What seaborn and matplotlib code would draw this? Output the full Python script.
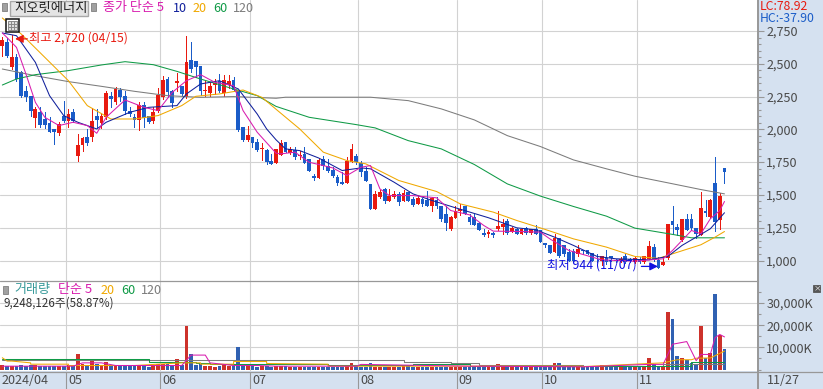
import matplotlib
matplotlib.use("Agg")
import matplotlib.pyplot as plt
import numpy as np
import pandas as pd
import seaborn as sns
from matplotlib.lines import Line2D
from matplotlib.patches import Rectangle
from matplotlib.ticker import FixedLocator, FuncFormatter

# ------------------------------
# data
# ------------------------------

candle_color = (
    "RBRBBBBRBB" "BBRBRBRRBR" "BRRBRBBBBR" "BBRRRBBRBR"
    "BBBRRRBRRB" "BBRBBRBBRR" "BRBRBBBRBB" "BBBRRBBBBR"
    "RBRRBRBBRB" "BRBBBRRRBB" "BBBRBRRBRB" "RBRBBBBRBB"
    "BBRBBBBRBB" "BRBBRBRRBB" "RRBBRBBBRB" "RBRB"
)
body_top = [
    2684, 2663, 2549, 2549, 2440, 2290, 2252, 2155, 2135, 2082,
    2046, 2003, 2041, 2105, 2117, 2130, 1884, 1935, 1940, 2062,
    2105, 2100, 2275, 2252, 2308, 2300, 2257, 2143, 2097, 2189,
    2189, 2105, 2135, 2265, 2379, 2384, 2295, 2371, 2333, 2516,
    2529, 2524, 2481, 2300, 2333, 2354, 2371, 2379, 2371, 2379,
    2300, 2016, 1960, 1945, 1902, 1856, 1843, 1762, 1851, 1894,
    1902, 1851, 1846, 1808, 1813, 1775, 1648, 1770, 1775, 1724,
    1693, 1640, 1602, 1762, 1853, 1800, 1742, 1686, 1587, 1508,
    1521, 1546, 1495, 1508, 1508, 1513, 1526, 1470, 1478, 1470,
    1465, 1478, 1462, 1419, 1356, 1335, 1381, 1394, 1412, 1335,
    1330, 1284, 1211, 1214, 1209, 1262, 1277, 1305, 1247, 1242,
    1237, 1249, 1237, 1242, 1229, 1135, 1122, 1173, 1173, 1115,
    1064, 1071, 1084, 1082, 1077, 1059, 1038, 1031, 1021, 1031,
    1005, 1013, 1038, 1013, 1021, 1013, 1031, 1107, 1102, 1005,
    988, 1282, 1300, 1259, 1313, 1313, 1313, 1247, 1397, 1374,
    1463, 1590, 1491, 1707,
]
body_bottom = [
    2633, 2562, 2473, 2384, 2257, 2250, 2138, 2087, 2036, 2036,
    1978, 1978, 1975, 2067, 2067, 2067, 1795, 1884, 1896, 1940,
    2074, 2049, 2092, 2232, 2211, 2244, 2138, 2117, 2072, 2072,
    2087, 2054, 2062, 2138, 2250, 2288, 2199, 2351, 2270, 2250,
    2460, 2473, 2295, 2290, 2277, 2341, 2295, 2275, 2341, 2300,
    1995, 1922, 1922, 1894, 1846, 1851, 1754, 1736, 1742, 1808,
    1826, 1818, 1793, 1798, 1747, 1686, 1630, 1632, 1724, 1686,
    1648, 1589, 1587, 1589, 1749, 1749, 1673, 1605, 1389, 1389,
    1488, 1450, 1450, 1483, 1444, 1450, 1457, 1427, 1429, 1432,
    1419, 1419, 1412, 1320, 1284, 1244, 1323, 1381, 1351, 1295,
    1274, 1234, 1193, 1199, 1191, 1237, 1254, 1209, 1221, 1204,
    1204, 1209, 1209, 1199, 1140, 1115, 1061, 1064, 1031, 1046,
    1000, 995, 1051, 1069, 1051, 1000, 1031, 995, 988, 1021,
    995, 995, 988, 1000, 988, 988, 988, 1013, 1005, 945,
    967, 1021, 1267, 1229, 1153, 1234, 1249, 1204, 1191, 1361,
    1331, 1293, 1310, 1672,
]
wick_high = [
    2702, 2696, 2719, 2575, 2448, 2333, 2252, 2168, 2168, 2130,
    2092, 2003, 2054, 2219, 2155, 2155, 1965, 1945, 2003, 2163,
    2155, 2117, 2295, 2283, 2326, 2316, 2295, 2168, 2117, 2206,
    2206, 2105, 2168, 2316, 2407, 2402, 2300, 2427, 2333, 2714,
    2663, 2524, 2481, 2371, 2359, 2384, 2422, 2417, 2417, 2397,
    2300, 2016, 2029, 1945, 1927, 1894, 1851, 1812, 1851, 1920,
    1902, 1869, 1869, 1838, 1864, 1775, 1660, 1782, 1800, 1775,
    1711, 1653, 1673, 1792, 1889, 1813, 1762, 1711, 1587, 1528,
    1539, 1554, 1546, 1528, 1521, 1539, 1526, 1483, 1495, 1475,
    1533, 1488, 1488, 1419, 1419, 1343, 1419, 1432, 1412, 1351,
    1351, 1292, 1242, 1229, 1216, 1374, 1318, 1318, 1254, 1247,
    1249, 1259, 1242, 1272, 1229, 1135, 1122, 1199, 1173, 1115,
    1090, 1089, 1115, 1082, 1082, 1059, 1046, 1031, 1077, 1031,
    1013, 1026, 1046, 1021, 1031, 1026, 1038, 1145, 1127, 1026,
    1031, 1282, 1419, 1280, 1313, 1356, 1356, 1247, 1521, 1465,
    1470, 1788, 1516, 1707,
]
wick_low = [
    2562, 2549, 2460, 2371, 2244, 2214, 2105, 2021, 2021, 2011,
    1978, 1886, 1960, 2054, 2021, 2054, 1762, 1838, 1884, 1914,
    2016, 2011, 2079, 2168, 2194, 2219, 2117, 2105, 2016, 1995,
    2016, 2046, 2049, 2130, 2229, 2244, 2168, 2295, 2257, 2239,
    2435, 2397, 2265, 2257, 2257, 2270, 2282, 2257, 2316, 2290,
    1985, 1914, 1914, 1868, 1838, 1768, 1736, 1736, 1742, 1808,
    1826, 1813, 1772, 1775, 1742, 1686, 1617, 1632, 1699, 1678,
    1635, 1579, 1587, 1589, 1749, 1737, 1648, 1605, 1389, 1389,
    1478, 1437, 1450, 1475, 1424, 1450, 1452, 1414, 1429, 1414,
    1414, 1376, 1401, 1300, 1229, 1229, 1323, 1348, 1351, 1279,
    1267, 1229, 1188, 1183, 1178, 1229, 1204, 1204, 1214, 1199,
    1199, 1199, 1204, 1199, 1140, 1102, 1061, 1064, 1026, 1031,
    1000, 988, 1038, 1046, 1046, 995, 988, 962, 975, 1000,
    985, 988, 980, 988, 980, 980, 980, 1008, 995, 944,
    967, 1013, 1199, 1191, 1148, 1229, 1229, 1173, 1191, 1336,
    1326, 1224, 1242, 1589,
]

volume = [
    2100, 1500, 1500, 1500, 2100, 1500, 2100, 2100, 1400, 1400,
    1500, 1400, 1500, 1500, 2100, 1500, 6800, 2700, 1800, 4200,
    2400, 1500, 3600, 1800, 1800, 1500, 1800, 1500, 1500, 1500,
    1500, 1200, 2100, 2700, 2700, 2300, 2100, 4800, 2100, 19700,
    6800, 2100, 2700, 1800, 1800, 1200, 1500, 2100, 1500, 1800,
    10000, 2100, 1800, 1500, 1200, 1500, 1500, 1200, 1500, 1500,
    1500, 1200, 1200, 1000, 1200, 1100, 1100, 1000, 1200, 1000,
    1000, 1100, 1200, 2000, 2800, 1500, 1200, 1300, 3000, 1000,
    1000, 1000, 1000, 1100, 1000, 1800, 1800, 1000, 1000, 1000,
    1100, 1300, 1300, 1200, 1200, 1300, 1200, 1100, 1100, 1100,
    1000, 1000, 1000, 1100, 1000, 2400, 1200, 1100, 1000, 1000,
    1000, 1000, 1000, 1500, 1500, 1100, 1000, 2900, 3000, 1400,
    1400, 1200, 1300, 1200, 1100, 1200, 1100, 2100, 1200, 1100,
    1000, 1000, 1000, 1000, 1000, 1000, 1000, 5000, 2700, 1500,
    1500, 25800, 22700, 6300, 5000, 4100, 3000, 2300, 19700, 5300,
    7300, 34000, 15500, 9248,
]

# price moving averages, read at the bends of each line
ma120_days = [0, 7, 14, 21, 28, 35, 42, 49, 58, 60, 78, 86, 93, 100, 107, 114, 121, 128, 134, 142, 148, 153]
ma120_vals = [2460, 2409, 2364, 2328, 2290, 2257, 2244, 2250, 2237, 2245, 2245, 2219, 2156, 2072, 1952, 1869, 1767, 1699, 1643, 1585, 1541, 1508]
ma60_days = [0, 3, 7, 14, 21, 26, 32, 37, 42, 49, 54, 58, 65, 75, 79, 86, 93, 100, 107, 114, 121, 128, 134, 142, 146, 153]
ma60_vals = [2338, 2384, 2417, 2448, 2491, 2516, 2493, 2442, 2384, 2308, 2257, 2175, 2092, 2036, 2011, 1914, 1851, 1732, 1584, 1491, 1412, 1338, 1247, 1199, 1173, 1173]
ma20_days = [0, 4, 9, 14, 18, 23, 28, 33, 38, 41, 46, 51, 55, 58, 63, 68, 73, 77, 84, 92, 97, 104, 109, 115, 121, 128, 134, 139, 142, 148, 151, 153]
ma20_vals = [2849, 2727, 2549, 2371, 2181, 2079, 2079, 2105, 2181, 2252, 2270, 2300, 2244, 2153, 2003, 1826, 1762, 1737, 1610, 1526, 1432, 1369, 1305, 1237, 1165, 1102, 1031, 1016, 1051, 1120, 1178, 1221]
ma10_days = [0, 3, 7, 10, 13, 16, 20, 22, 27, 31, 37, 39, 42, 46, 50, 54, 56, 58, 60, 63, 67, 72, 76, 78, 83, 87, 91, 96, 103, 109, 113, 117, 121, 126, 130, 137, 141, 144, 147, 150, 153]
ma10_vals = [2735, 2714, 2511, 2257, 2105, 2054, 2003, 2054, 2130, 2168, 2181, 2270, 2346, 2371, 2308, 2117, 2003, 1920, 1851, 1838, 1782, 1686, 1706, 1699, 1597, 1508, 1458, 1402, 1326, 1249, 1234, 1178, 1115, 1031, 1013, 1005, 1031, 1115, 1178, 1242, 1364]
ma5_days = [0, 1, 3, 5, 7, 9, 12, 15, 18, 20, 22, 26, 30, 33, 36, 39, 42, 45, 49, 51, 54, 58, 59, 62, 65, 68, 70, 73, 76, 78, 80, 82, 87, 92, 95, 99, 102, 104, 110, 114, 116, 120, 127, 134, 140, 142, 144, 146, 148, 150, 152, 153]
ma5_vals = [2735, 2700, 2625, 2422, 2206, 2092, 2029, 2054, 2029, 1970, 2092, 2224, 2168, 2143, 2282, 2371, 2417, 2359, 2333, 2143, 1978, 1818, 1813, 1826, 1749, 1724, 1706, 1648, 1711, 1724, 1546, 1495, 1495, 1478, 1381, 1348, 1267, 1224, 1221, 1216, 1165, 1077, 1005, 995, 1013, 1077, 1153, 1229, 1204, 1318, 1381, 1450]

# volume moving averages, these run in flat steps
vol120_days = [0, 85, 85, 95, 95, 101, 101, 123, 123, 140, 140, 153]
vol120_vals = [4100, 4100, 3300, 3300, 3000, 3000, 2100, 2100, 1500, 1500, 2500, 2500]
vol60_days = [0, 27, 27, 31, 31, 41, 41, 44, 44, 69, 69, 87, 87, 99, 99, 120, 120, 146, 146, 153]
vol60_vals = [4800, 4800, 4700, 4700, 3600, 3600, 3000, 3000, 2700, 2700, 2000, 2000, 2400, 2400, 1800, 1800, 1500, 1500, 3300, 3300]
vol20_days = [0, 1, 2, 6, 6, 14, 14, 28, 38, 42, 42, 49, 49, 56, 56, 69, 69, 123, 123, 140, 143, 146, 147, 150, 153]
vol20_vals = [5300, 3800, 3800, 3000, 2400, 2400, 1800, 1800, 3000, 3000, 2400, 2400, 3600, 3600, 2700, 2400, 1500, 1500, 1300, 3000, 4400, 4400, 5100, 5200, 8300]
vol5_days = [0, 15, 17, 21, 24, 38, 40, 43, 44, 49, 54, 58, 75, 76, 99, 123, 137, 140, 142, 145, 147, 148, 150, 151, 152, 153]
vol5_vals = [1500, 1500, 3000, 3000, 1800, 1800, 6500, 6500, 3000, 1800, 1800, 1500, 1500, 2300, 1500, 1200, 2300, 2300, 11400, 12600, 4000, 6800, 6800, 14400, 15800, 14700]

month_lines = [13.5, 33.4, 52.5, 75.4, 96.3, 114.3, 134.5]
month_labels = ["05", "06", "07", "08", "09", "10", "11"]
price_ticks = [1000, 1250, 1500, 1750, 2000, 2250, 2500, 2750]
volume_ticks = [10000, 20000, 30000]

# ------------------------------
# layout, everything in reference pixels
# ------------------------------

W, H = 823, 389
RED, BLUE = "#e81a10", "#1a5cc8"
MAGENTA, NAVY, ORANGE, GREEN, GRAY = "#d81cae", "#10209c", "#f0a800", "#0f9a46", "#7c7c7c"
LOW_BLUE = "#1010e0"
PANEL = "#d5e1f0"
GRID = "#d2d2d2"
TEXT = "#4a4a4a"
FRAME = "#989898"
WICK_W = 0.72
LINE_W = 0.75
BODY_W = 0.8

sns.set_theme(style="white")
plt.rcParams["font.family"] = ["Noto Sans CJK KR", "DejaVu Sans"]
plt.rcParams["axes.unicode_minus"] = False


def fx(x):
    return x / W


def fy(y):
    return 1 - y / H


def label(x, y, s, color=TEXT, size=9.1, **kw):
    fig.text(fx(x), fy(y), s, color=color, fontsize=size, va="center", **kw)


def day_x(px):
    return (px - 2.33) / 4.72


fig = plt.figure(figsize=(W / 100, H / 100), dpi=100, facecolor=PANEL)
ax = fig.add_axes([0, fy(281), fx(758), (281) / H])
ax_vol = fig.add_axes([0, fy(371), fx(758), (371 - 281) / H])

# ------------------------------
# price panel
# ------------------------------

days = np.arange(len(candle_color))
colors = [RED if c == "R" else BLUE for c in candle_color]
ax.vlines(days, wick_low, wick_high, colors=colors, linewidth=WICK_W, antialiased=False, zorder=3)
ax.bar(days, np.array(body_top) - np.array(body_bottom), bottom=body_bottom, width=BODY_W,
       color=colors, linewidth=0, antialiased=False, zorder=3)

for d, v, c in [(ma120_days, ma120_vals, GRAY), (ma60_days, ma60_vals, GREEN),
                (ma20_days, ma20_vals, ORANGE), (ma10_days, ma10_vals, NAVY),
                (ma5_days, ma5_vals, MAGENTA)]:
    sns.lineplot(x=d, y=v, color=c, linewidth=LINE_W, ax=ax, estimator=None, sort=False, zorder=4)

ax.set_xlim(day_x(0), day_x(758))
ax.set_ylim(1000 + (260.5 - 281) * 7.625, 1000 + 260.5 * 7.625)

# highest and lowest price notes
ax.annotate("", xy=(2.7, 2690), xytext=(5.3, 2690),
            arrowprops=dict(arrowstyle="-|>", color=RED, lw=0.9, mutation_scale=12, shrinkA=0, shrinkB=0), zorder=6)
ax.text(day_x(29), 2695, "최고 2,720 (04/15)", color=RED, fontsize=8.8, va="center", zorder=6)
ax.annotate("", xy=(138.9, 955), xytext=(135.4, 955),
            arrowprops=dict(arrowstyle="-|>", color=LOW_BLUE, lw=0.9, mutation_scale=12, shrinkA=0, shrinkB=0), zorder=6)
ax.text(day_x(547), 966, "최저 944 (11/07)", color=LOW_BLUE, fontsize=8.9, va="center", zorder=6)

# ------------------------------
# volume panel
# ------------------------------

vol_df = pd.DataFrame({"day": days, "volume": volume, "side": list(candle_color)})
sns.barplot(data=vol_df, x="day", y="volume", hue="side", palette={"R": RED, "B": BLUE},
            native_scale=True, dodge=False, width=BODY_W, legend=False, errorbar=None,
            linewidth=0, antialiased=False, ax=ax_vol, zorder=3)

for d, v, c in [(vol120_days, vol120_vals, GRAY), (vol60_days, vol60_vals, GREEN),
                (vol20_days, vol20_vals, ORANGE), (vol5_days, vol5_vals, MAGENTA)]:
    sns.lineplot(x=d, y=v, color=c, linewidth=LINE_W, ax=ax_vol, estimator=None, sort=False, zorder=4)

ax_vol.set_xlim(day_x(0), day_x(758))
ax_vol.set_ylim(-(371 - 369.5) / 22.17 * 10000, (369.5 - 281) / 22.17 * 10000)

# ------------------------------
# axes styling
# ------------------------------

for a, ticks in [(ax, price_ticks), (ax_vol, volume_ticks)]:
    a.set_facecolor("white")
    a.set_xlabel("")
    a.set_ylabel("")
    a.yaxis.tick_right()
    a.set_yticks(ticks)
    a.set_xticks(month_lines)
    a.set_xticklabels([])
    a.tick_params(axis="x", length=0)
    a.tick_params(axis="y", which="major", length=4, width=0.8, color=FRAME, pad=2,
                  labelcolor=TEXT, labelsize=9.1)
    a.tick_params(axis="y", which="minor", length=2, width=0.8, color=FRAME)
    a.grid(True, color=GRID, linewidth=0.8, zorder=0)
    a.set_axisbelow(True)
    for side in ["top", "left", "bottom"]:
        a.spines[side].set_visible(False)
    a.spines["right"].set_color(FRAME)
    a.spines["right"].set_linewidth(1.4)

ax.yaxis.set_minor_locator(FixedLocator(np.arange(1000, 2751, 50)))
ax_vol.yaxis.set_minor_locator(FixedLocator(np.arange(0, 35001, 5000)))
ax.yaxis.set_major_formatter(FuncFormatter(lambda v, p: f"{int(v):,}"))
ax_vol.yaxis.set_major_formatter(FuncFormatter(lambda v, p: f"{int(v):,}K"))

fig.add_artist(Line2D([0, fx(758)], [fy(281), fy(281)], color=FRAME, linewidth=0.9))
fig.add_artist(Line2D([0, 1], [fy(371.5), fy(371.5)], color=FRAME, linewidth=0.9))
fig.add_artist(Line2D([fx(758), fx(758)], [fy(371), 0], color=FRAME, linewidth=1.4))
for d in month_lines:
    px = 2.33 + d * 4.72
    fig.add_artist(Line2D([fx(px), fx(px)], [fy(372), 0], color=FRAME, linewidth=0.8))

# ------------------------------
# header, legends and bottom axis text
# ------------------------------

fig.add_artist(Rectangle((fx(10), fy(15.5)), 78 / W, 14.5 / H, facecolor="#e4e4e4", edgecolor="#a8a8a8", linewidth=1))
label(14, 8, "지오릿에너지", color="#222222", size=9.6)
for x0, y0 in [(2, 3), (91, 3), (3, 286)]:
    fig.add_artist(Rectangle((fx(x0), fy(y0 + 8)), 5 / W, 8 / H, facecolor="#a0a0a0", edgecolor="#808080", linewidth=0.6))

label(103, 8, "종가 단순 5", color=MAGENTA, size=9.4)
label(173, 8, "10", color=NAVY)
label(193, 8, "20", color=ORANGE)
label(213, 8, "60", color=GREEN)
label(233, 8, "120", color=GRAY)

label(14, 290, "거래량", color="#389a9a", size=9.4)
label(58, 290, "단순 5", color=MAGENTA, size=9.4)
label(101, 290, "20", color=ORANGE)
label(121, 290, "60", color=GREEN)
label(141, 290, "120", color=GRAY)
label(4, 303, "9,248,126주(58.87%)", color="#333333", size=8.4)

fig.text(fx(760), fy(6), "LC:78.92", color=RED, fontsize=8.8, va="center", zorder=10)
fig.text(fx(760), fy(18), "HC:-37.90", color=BLUE, fontsize=8.8, va="center", zorder=10)

# small table icon over the price panel
fig.add_artist(Rectangle((fx(6), fy(32)), 13 / W, 13 / H, facecolor="white", edgecolor="#111111", linewidth=1.1, zorder=8))
fig.add_artist(Rectangle((fx(8), fy(30)), 9 / W, 9 / H, facecolor="#dddddd", edgecolor="#888888", linewidth=0.7, zorder=8))
for gx in [11, 14]:
    fig.add_artist(Line2D([fx(gx), fx(gx)], [fy(30), fy(21)], color="#888888", linewidth=0.7, zorder=9))
for gy in [24, 27]:
    fig.add_artist(Line2D([fx(8), fx(17)], [fy(gy), fy(gy)], color="#888888", linewidth=0.7, zorder=9))

# small expand icon on the right
fig.add_artist(Rectangle((fx(813), fy(292)), 7 / W, 7 / H, facecolor="#555555", edgecolor="#555555", linewidth=0.6))
label(813.6, 288.6, "×", color="white", size=5.5)

label(2, 380, "2024/04", size=9.1)
for d, s in zip(month_lines, month_labels):
    label(2.33 + d * 4.72 + 2, 380, s, size=9.1)
label(767, 380, "11/27", size=9.1)

fig.savefig("out.png", dpi=100, facecolor=PANEL)
